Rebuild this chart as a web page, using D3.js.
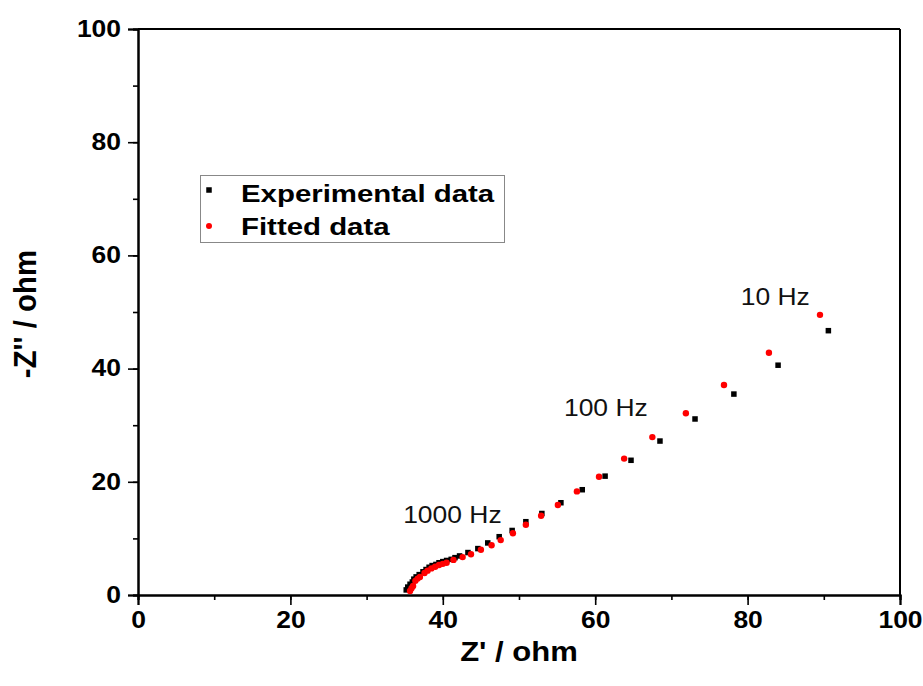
<!DOCTYPE html>
<html><head><meta charset="utf-8">
<script src="https://cdn.jsdelivr.net/npm/d3@7"></script>
<style>body{margin:0;background:#fff}svg{display:block}</style>
</head><body><svg id="c" width="923" height="686"></svg>
<script>
const expX = [35.2,35.4,35.7,36.0,36.2,36.5,36.9,37.4,37.8,38.2,38.6,39.1,39.5,40.0,40.5,41.1,41.6,42.2,43.3,44.6,45.9,47.4,49.1,50.9,53.0,55.5,58.3,61.3,64.7,68.5,73.1,78.2,84.0,90.6];
const expY = [0.9,1.4,1.9,2.3,2.8,3.2,3.6,4.1,4.5,4.9,5.2,5.4,5.7,5.9,6.1,6.3,6.6,6.9,7.5,8.2,9.2,10.3,11.4,12.95,14.4,16.3,18.6,21.0,23.8,27.2,31.1,35.5,40.6,46.7];
const fitX = [35.7,35.9,36.1,36.4,36.7,37.0,37.6,38.0,38.5,39.0,39.5,40.0,40.5,41.4,42.6,43.7,45.0,46.4,47.6,49.2,50.9,52.9,55.1,57.6,60.5,63.8,67.5,71.9,76.9,82.8,89.5];
const fitY = [0.7,1.2,1.6,2.5,2.9,3.2,3.9,4.3,4.7,5.0,5.3,5.5,5.7,6.2,6.7,7.2,8.0,8.8,9.7,10.9,12.4,14.0,15.9,18.3,20.9,24.1,27.9,32.1,37.1,42.8,49.5];
const xTicks = [0,20,40,60,80,100];
const yTicks = [0,20,40,60,80,100];
const annotations = [{text:"1000 Hz", x:34.8, y:12.7},{text:"100 Hz", x:55.9, y:31.6},{text:"10 Hz", x:79.1, y:51.2}];
const legendItems = ["Experimental data","Fitted data"];
const xTitle = "Z' / ohm", yTitle = "-Z'' / ohm";

const svg = d3.select("#c");
const L=138, R=900, T=29, B=595;
const x = d3.scaleLinear().domain([0,100]).range([L,R]);
const y = d3.scaleLinear().domain([0,100]).range([B,T]);
const font = "'Liberation Sans', Arial, sans-serif";
const SX = 1.15;

// frame
svg.append("line").attr("x1",L).attr("x2",R).attr("y1",T).attr("y2",T).attr("stroke","#000").attr("stroke-width",2);
svg.append("line").attr("x1",R).attr("x2",R).attr("y1",T).attr("y2",B).attr("stroke","#000").attr("stroke-width",2);

// axes
const minorX = d3.range(0,101,10);
const gx = svg.append("g").attr("transform",`translate(0,${B})`);
gx.call(d3.axisBottom(x).tickValues(minorX).tickSize(5).tickFormat(""));
const gx2 = svg.append("g").attr("transform",`translate(0,${B})`);
gx2.call(d3.axisBottom(x).tickValues(xTicks).tickSize(10).tickFormat(d3.format("d")).tickPadding(7));
const gy = svg.append("g").attr("transform",`translate(${L},0)`);
gy.call(d3.axisLeft(y).tickValues(minorX).tickSize(5).tickFormat(""));
const gy2 = svg.append("g").attr("transform",`translate(${L},0)`);
gy2.call(d3.axisLeft(y).tickValues(yTicks).tickSize(10).tickFormat(d3.format("d")).tickPadding(7));
svg.selectAll(".domain").attr("stroke-width",2);
svg.selectAll(".tick line").attr("stroke-width",1.6);
svg.selectAll(".tick text").attr("font-family",font).attr("font-weight","bold").attr("font-size",23).attr("fill","#000");
gx2.selectAll(".tick text").attr("transform",`scale(${SX},1)`);
gy2.selectAll(".tick text").attr("transform",`translate(-17,0) scale(${SX},1)`).attr("x",0);

// titles
svg.append("text").attr("transform",`translate(${(L+R)/2},661) scale(${SX},1)`).attr("text-anchor","middle")
  .attr("font-family",font).attr("font-weight","bold").attr("font-size",27).text(xTitle);
svg.append("text").attr("transform",`translate(36,314) rotate(-90) scale(1.05,${SX})`).attr("text-anchor","middle")
  .attr("font-family",font).attr("font-weight","bold").attr("font-size",28).text(yTitle);

// data
const exp = expX.map((v,i)=>({x:v,y:expY[i]}));
const fit = fitX.map((v,i)=>({x:v,y:fitY[i]}));
const s = 5.5;
svg.append("g").selectAll("rect").data(exp).join("rect")
  .attr("x",d=>x(d.x)-s/2).attr("y",d=>y(d.y)-s/2).attr("width",s).attr("height",s).attr("fill","#000");
svg.append("g").selectAll("circle").data(fit).join("circle")
  .attr("cx",d=>x(d.x)).attr("cy",d=>y(d.y)).attr("r",3.2).attr("fill","#f00");

// annotations
svg.append("g").selectAll("text").data(annotations).join("text")
  .attr("transform",d=>`translate(${x(d.x)},${y(d.y)}) scale(${SX},1)`)
  .attr("font-family",font).attr("font-size",23).attr("fill","#111").text(d=>d.text);

// legend
const lg = svg.append("g");
lg.append("rect").attr("x",200.5).attr("y",175.5).attr("width",304).attr("height",67).attr("fill","#fff").attr("stroke","#888").attr("stroke-width",1);
lg.append("rect").attr("x",209-2.75).attr("y",190-2.75).attr("width",5.5).attr("height",5.5).attr("fill","#000");
lg.append("circle").attr("cx",209).attr("cy",226).attr("r",3).attr("fill","#f00");
legendItems.forEach((t,i)=>{
  lg.append("text").attr("transform",`translate(241,${202+i*33}) scale(1.2,1)`)
    .attr("font-family",font).attr("font-weight","bold").attr("font-size",24.5).text(t);
});
</script></body></html>
